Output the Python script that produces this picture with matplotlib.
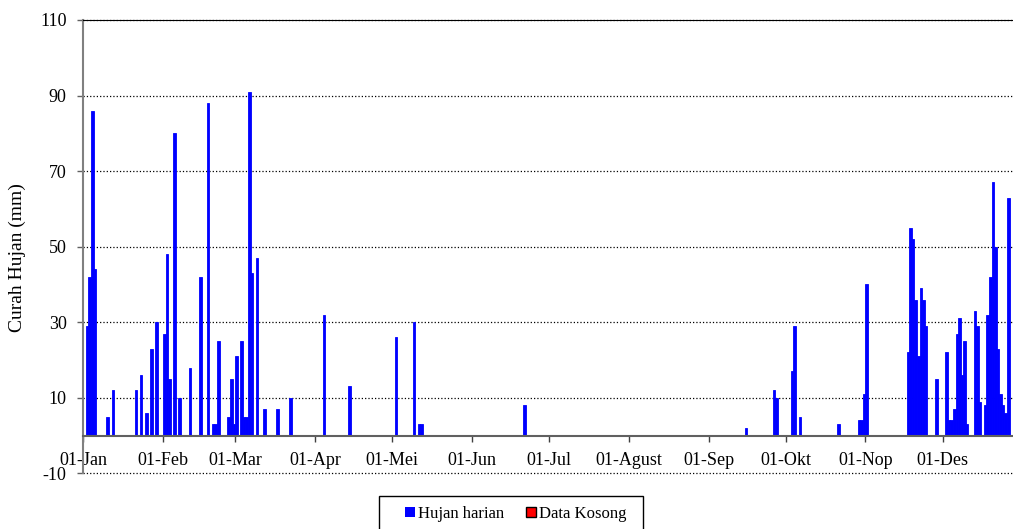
import matplotlib.pyplot as plt
from matplotlib.patches import Patch, Rectangle

plt.rcParams['font.family'] = ['Liberation Serif', 'DejaVu Serif']
plt.rcParams['axes.unicode_minus'] = False

# hari ke- (0 = 01-Jan) dan curah hujan harian (mm)
hari = [1, 2, 3, 4, 9, 11, 20, 22, 24, 26, 28,
        31, 32, 33, 35, 37, 41, 45, 48, 50, 51, 52, 56, 57, 58,
        59, 61, 62, 63, 64, 65, 67, 70, 75, 80,
        93, 103, 121, 128, 130, 131, 171,
        257, 268, 269, 275, 276, 278, 293, 301, 302, 303,
        304, 320, 321, 322, 323, 324, 325, 326, 327, 331,
        335, 336, 337, 338, 339, 340, 341, 342, 343, 346, 347, 348,
        350, 351, 352, 353, 354, 355, 356, 357, 358, 359]
hujan = [29, 42, 86, 44, 5, 12, 12, 16, 6, 23, 30,
         27, 48, 15, 80, 10, 18, 42, 88, 3, 3, 25, 5, 15, 3,
         21, 25, 5, 5, 91, 43, 47, 7, 7, 10,
         32, 13, 26, 30, 3, 3, 8,
         2, 12, 10, 17, 29, 5, 3, 4, 4, 11,
         40, 22, 55, 52, 36, 21, 39, 36, 29, 15,
         22, 4, 4, 7, 27, 31, 16, 25, 3, 33, 29, 9,
         8, 32, 42, 67, 50, 23, 11, 8, 6, 63]

# hari tanpa data (tidak ada pada periode ini)
hari_kosong = []
nilai_kosong = []

bulan_hari = [0, 31, 59, 90, 120, 151, 181, 212, 243, 273, 304, 334]
bulan_label = ['01-Jan', '01-Feb', '01-Mar', '01-Apr', '01-Mei', '01-Jun',
               '01-Jul', '01-Agust', '01-Sep', '01-Okt', '01-Nop', '01-Des']

fig = plt.figure(figsize=(10.13, 5.29), dpi=100)
ax = fig.add_axes([0.0822, 0.1053, 0.9271, 0.8569])

ax.bar(hari, hujan, width=1.0, align='edge', color='#0000FF',
       edgecolor='#0000FF', linewidth=0.6, zorder=2)
ax.bar(hari_kosong, nilai_kosong, width=1.0, align='edge', color='red', zorder=2)

ax.set_xlim(0, 365)
ax.set_ylim(-10, 110)
ax.set_yticks(range(-10, 111, 20))
ax.set_xticks(bulan_hari)
ax.set_xticklabels(bulan_label)

ax.set_axisbelow(True)
ax.grid(axis='y', linestyle=':', color='black', linewidth=0.9)
for gl in ax.get_ygridlines():
    gl.set_clip_on(False)

ax.spines['right'].set_visible(False)
ax.spines['top'].set_color('black')
ax.spines['top'].set_linewidth(0.8)
ax.spines['left'].set_color('#808080')
ax.spines['left'].set_linewidth(1.5)
ax.spines['bottom'].set_position(('data', 0))
ax.spines['bottom'].set_color('#606060')
ax.spines['bottom'].set_linewidth(1.5)

ax.tick_params(axis='y', length=4, width=1, color='#606060', pad=8, labelsize=13)
ax.tick_params(axis='x', length=4, width=1, color='#404040', pad=8, labelsize=13)

fig.text(0.0173, 1 - 258 / 529, 'Curah Hujan (mm)', rotation=90,
         ha='center', va='center', fontsize=14)

# kotak legenda (terpotong di bawah seperti aslinya)
fig.add_artist(Rectangle((379 / 1013, -0.05), 264 / 1013, 0.05 + 33 / 529,
                         transform=fig.transFigure, fill=False,
                         edgecolor='black', linewidth=1))
handles = [Patch(facecolor='#0000FF', edgecolor='none', label='Hujan harian'),
           Patch(facecolor='red', edgecolor='black', linewidth=1, label='Data Kosong')]
fig.legend(handles=handles, loc='center left', bbox_to_anchor=(405 / 1013, 1 - 514 / 529),
           ncol=2, fontsize=12, frameon=False,
           handlelength=0.6, handleheight=0.6, handletextpad=0.15,
           columnspacing=1.35, borderpad=0, borderaxespad=0)

fig.savefig('out.png', dpi=100)
